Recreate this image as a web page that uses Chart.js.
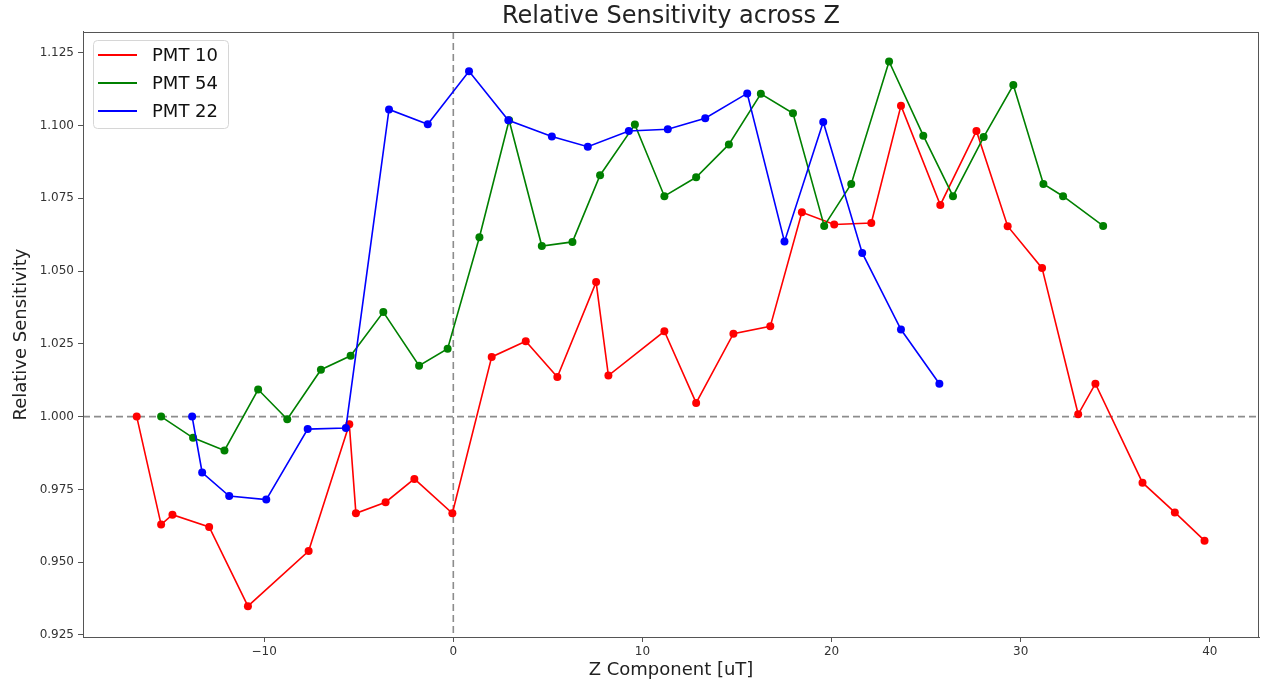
<!DOCTYPE html>
<html>
<head>
<meta charset="utf-8">
<title>Relative Sensitivity across Z</title>
<script src="https://cdn.jsdelivr.net/npm/chart.js@4.4.1/dist/chart.umd.min.js"></script>
<style>
  body { margin: 0; background: #fff; }
  canvas { display: block; }
</style>
</head>
<body>
<canvas id="sensChart" width="1264" height="683"></canvas>
<script>
// PMT 10
const pmt10X = [-16.74, -15.45, -14.85, -12.91, -10.86, -7.65, -5.50, -5.15, -3.58, -2.06, -0.05,
  2.03, 3.83, 5.50, 7.55, 8.20, 11.16, 12.84, 14.81, 16.76, 18.43, 20.14, 22.10, 23.67, 25.75,
  27.66, 29.31, 31.13, 33.04, 33.95, 36.44, 38.15, 39.72];
const pmt10Y = [1.000, 0.9629, 0.9663, 0.9621, 0.9349, 0.9538, 0.9974, 0.9668, 0.9706, 0.9786, 0.9668,
  1.0205, 1.0259, 1.0136, 1.0462, 1.0141, 1.0293, 1.0047, 1.0285, 1.0310, 1.0702, 1.0660, 1.0665, 1.1068, 1.0727,
  1.0981, 1.0654, 1.0510, 1.0008, 1.0113, 0.9773, 0.9671, 0.9574];

// PMT 54
const pmt54X = [-15.45, -13.76, -12.10, -10.32, -8.78, -7.00, -5.43, -3.70, -1.81, -0.30,
  1.38, 2.95, 4.68, 6.30, 7.76, 9.60, 11.16, 12.84, 14.57, 16.26, 17.96, 19.61, 21.04,
  23.04, 24.85, 26.42, 28.04, 29.61, 31.20, 32.24, 34.36];
const pmt54Y = [1.000, 0.9927, 0.9884, 1.0093, 0.9991, 1.0161, 1.0209, 1.0359, 1.0175, 1.0233,
  1.0616, 1.1018, 1.0586, 1.0600, 1.0829, 1.1003, 1.0757, 1.0822, 1.0935, 1.1109, 1.1042, 1.0655, 1.0799,
  1.1220, 1.0965, 1.0757, 1.0960, 1.1139, 1.0799, 1.0757, 1.0655];

// PMT 22
const pmt22X = [-13.81, -13.28, -11.85, -9.89, -7.70, -5.68, -3.40, -1.35, 0.83, 2.91, 5.21,
  7.11, 9.28, 11.34, 13.32, 15.54, 17.51, 19.56, 21.62, 23.67, 25.70];
const pmt22Y = [1.000, 0.9808, 0.9727, 0.9715, 0.9957, 0.9961, 1.1055, 1.1004, 1.1186, 1.1018, 1.0962,
  1.0927, 1.0981, 1.0987, 1.1025, 1.1110, 1.0601, 1.1012, 1.0562, 1.0299, 1.0113];

const seriesNames = ["PMT 10", "PMT 54", "PMT 22"];
const xTicks = [-10, 0, 10, 20, 30, 40];
const yTicks = [0.925, 0.950, 0.975, 1.000, 1.025, 1.050, 1.075, 1.100, 1.125];

const FONT = "'DejaVu Sans', sans-serif";

function toPoints(xs, ys) {
  return xs.map((x, i) => ({ x: x, y: ys[i] }));
}

function makeSet(label, xs, ys, color, order) {
  return {
    label: label,
    data: toPoints(xs, ys),
    borderColor: color,
    backgroundColor: color,
    borderWidth: 1.6,
    pointRadius: 4,
    pointHoverRadius: 4,
    pointBorderWidth: 0,
    tension: 0,
    order: order,
  };
}

// dashed reference lines at x = 0 and y = 1, plus the box round the plot
const refLines = {
  id: "refLines",
  beforeDatasetsDraw(chart) {
    const { ctx, chartArea, scales } = chart;
    const px = scales.x.getPixelForValue(0);
    const py = scales.y.getPixelForValue(1);
    ctx.save();
    ctx.strokeStyle = "#8c8c8c";
    ctx.lineWidth = 1.6;
    ctx.setLineDash([7, 4]);
    ctx.beginPath();
    ctx.moveTo(px, chartArea.top);
    ctx.lineTo(px, chartArea.bottom);
    ctx.moveTo(chartArea.left, py);
    ctx.lineTo(chartArea.right, py);
    ctx.stroke();
    ctx.restore();
  },
  afterDraw(chart) {
    const { ctx, chartArea } = chart;
    ctx.save();
    ctx.strokeStyle = "#555";
    ctx.lineWidth = 1;
    ctx.strokeRect(chartArea.left + 0.5, chartArea.top + 0.5,
      chartArea.right - chartArea.left - 1, chartArea.bottom - chartArea.top);
    ctx.restore();
  },
};

// matplotlib-like legend in the upper left corner
const boxLegend = {
  id: "boxLegend",
  afterDraw(chart) {
    const { ctx, chartArea } = chart;
    const x0 = chartArea.left + 10;
    const y0 = chartArea.top + 8;
    const w = 135, h = 88;
    ctx.save();
    ctx.fillStyle = "rgba(255,255,255,0.85)";
    ctx.strokeStyle = "#d6d6d6";
    ctx.lineWidth = 1;
    ctx.beginPath();
    ctx.roundRect(x0 + 0.5, y0 + 0.5, w, h, 4);
    ctx.fill();
    ctx.stroke();
    ctx.font = "18px " + FONT;
    ctx.textBaseline = "middle";
    chart.data.datasets.forEach((ds, i) => {
      const yy = y0 + 15 + i * 28;
      ctx.strokeStyle = ds.borderColor;
      ctx.lineWidth = 2;
      ctx.beginPath();
      ctx.moveTo(x0 + 5, yy);
      ctx.lineTo(x0 + 44, yy);
      ctx.stroke();
      ctx.fillStyle = "#111";
      ctx.fillText(ds.label, x0 + 59, yy + 1);
    });
    ctx.restore();
  },
};

const ctx = document.getElementById("sensChart").getContext("2d");
const chart = new Chart(ctx, {
  type: "line",
  data: {
    datasets: [
      makeSet(seriesNames[0], pmt10X, pmt10Y, "#ff0000", 3),
      makeSet(seriesNames[1], pmt54X, pmt54Y, "#008000", 2),
      makeSet(seriesNames[2], pmt22X, pmt22Y, "#0000ff", 1),
    ],
  },
  options: {
    responsive: false,
    animation: false,
    devicePixelRatio: 1,
    layout: { padding: { left: 0, right: 5, top: 0, bottom: 0 } },
    plugins: {
      legend: { display: false },
      tooltip: { enabled: false },
      title: {
        display: true,
        fullSize: false,
        text: "Relative Sensitivity across Z",
        color: "#222",
        font: { family: FONT, size: 24, weight: "normal" },
        padding: { top: 2, bottom: 1.2 },
      },
    },
    scales: {
      x: {
        type: "linear",
        min: -19.58,
        max: 42.6,
        afterBuildTicks(scale) {
          scale.ticks = xTicks.map((v) => ({ value: v }));
        },
        afterFit(scale) {
          scale.height = 46;
        },
        ticks: {
          color: "#333",
          font: { family: FONT, size: 12 },
          padding: 3,
          maxRotation: 0,
          callback: (v) => String(v).replace("-", "\u2212"),
        },
        grid: { drawOnChartArea: false, drawTicks: true, tickLength: 5, color: "#555" },
        border: { display: true, color: "#555", width: 1 },
        title: {
          display: true,
          text: "Z Component [uT]",
          color: "#222",
          font: { family: FONT, size: 18 },
          padding: { top: 0, bottom: 2 },
        },
      },
      y: {
        type: "linear",
        min: 0.9243,
        max: 1.1321,
        afterBuildTicks(scale) {
          scale.ticks = yTicks.map((v) => ({ value: v }));
        },
        afterFit(scale) {
          scale.width = 83;
        },
        ticks: {
          color: "#333",
          font: { family: FONT, size: 12 },
          padding: 4,
          callback: (v) => Number(v).toFixed(3),
        },
        grid: { drawOnChartArea: false, drawTicks: true, tickLength: 5, color: "#555" },
        border: { display: true, color: "#555", width: 1 },
        title: {
          display: true,
          text: "Relative Sensitivity",
          color: "#222",
          font: { family: FONT, size: 18 },
          padding: { top: 11, bottom: 0 },
        },
      },
    },
  },
  plugins: [refLines, boxLegend],
});
</script>
</body>
</html>
